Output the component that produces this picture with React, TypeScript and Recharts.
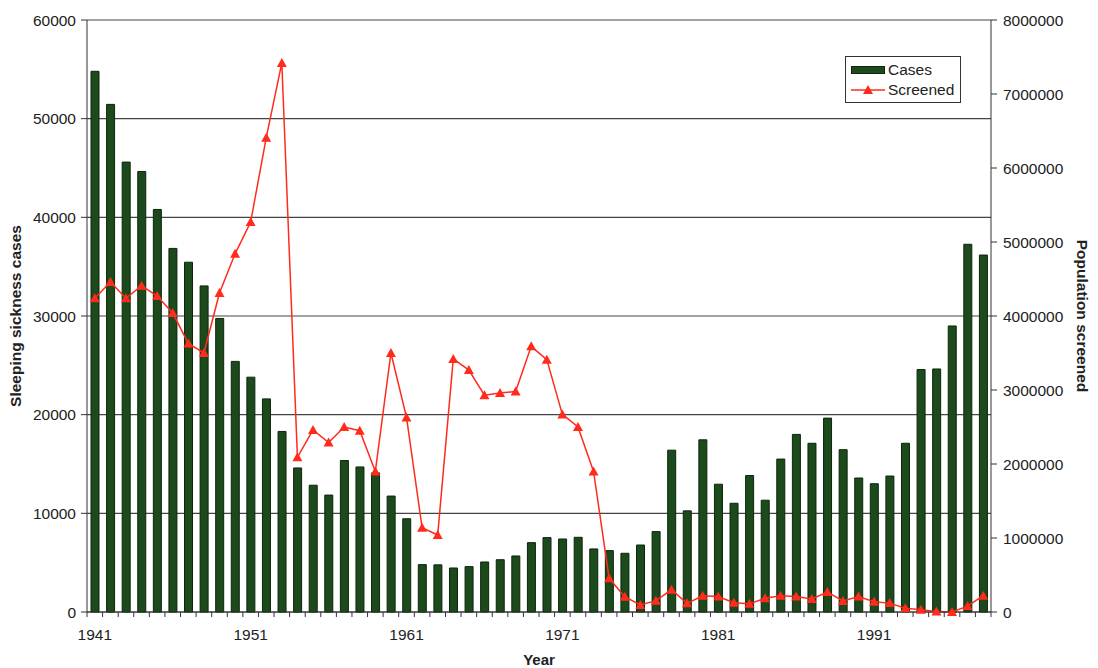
import { ComposedChart, Bar, Line, XAxis, YAxis, CartesianGrid } from 'recharts';

const years = [
  1941, 1942, 1943, 1944, 1945, 1946, 1947, 1948, 1949, 1950,
  1951, 1952, 1953, 1954, 1955, 1956, 1957, 1958, 1959, 1960,
  1961, 1962, 1963, 1964, 1965, 1966, 1967, 1968, 1969, 1970,
  1971, 1972, 1973, 1974, 1975, 1976, 1977, 1978, 1979, 1980,
  1981, 1982, 1983, 1984, 1985, 1986, 1987, 1988, 1989, 1990,
  1991, 1992, 1993, 1994, 1995, 1996, 1997, 1998,
];

const cases = [
  54800, 51450, 45600, 44650, 40800, 36850, 35450, 33050, 29750, 25400,
  23800, 21600, 18300, 14600, 12850, 11850, 15350, 14700, 14100, 11750,
  9450, 4800, 4780, 4460, 4600, 5070, 5300, 5680, 7030, 7540,
  7400, 7570, 6390, 6220, 5950, 6790, 8150, 16400, 10250, 17450,
  12950, 11020, 13830, 11330, 15500, 18000, 17100, 19650, 16450, 13580,
  13000, 13780, 17100, 24570, 24630, 28990, 37270, 36180,
];

const screened = [
  4240000, 4460000, 4240000, 4410000, 4270000, 4040000, 3630000, 3500000, 4310000, 4840000,
  5270000, 6410000, 7420000, 2090000, 2460000, 2290000, 2500000, 2450000, 1900000, 3500000,
  2630000, 1140000, 1040000, 3420000, 3270000, 2930000, 2960000, 2980000, 3590000, 3410000,
  2670000, 2500000, 1900000, 455000, 207000, 95000, 153000, 300000, 117000, 220000,
  210000, 126000, 110000, 185000, 220000, 210000, 176000, 270000, 150000, 210000,
  140000, 120000, 50000, 30000, 8000, 0, 80000, 220000,
];

const leftTicks = [0, 10000, 20000, 30000, 40000, 50000, 60000];
const rightTicks = [0, 1000000, 2000000, 3000000, 4000000, 5000000, 6000000, 7000000, 8000000];

const data = years.map((year, i) => ({ year, cases: cases[i], screened: screened[i] }));

const FONT = '"Liberation Sans", Arial, sans-serif';
const BAR_GREEN = '#1c4a1c';
const RED = '#ff2b1c';

const BAND = 904 / years.length;

const YearTick = (props: any) => {
  const { x, y, index } = props;
  const last = index === years.length - 1;
  return (
    <g>
      <line x1={x - BAND / 2} x2={x - BAND / 2} y1={y} y2={y + 5} stroke="#333" />
      {last && <line x1={x + BAND / 2} x2={x + BAND / 2} y1={y} y2={y + 5} stroke="#333" />}
      {index % 10 === 0 && (
        <text x={x} y={y + 28} textAnchor="middle" fontSize={15.5} fill="#222" fontFamily={FONT}>
          {props.payload.value}
        </text>
      )}
    </g>
  );
};

const Triangle = (props: any) => {
  const { cx, cy } = props;
  if (cx == null || cy == null) return null;
  return <polygon points={`${cx},${cy - 5} ${cx - 5},${cy + 4} ${cx + 5},${cy + 4}`} fill={RED} />;
};

const LegendBox = () => (
  <div
    style={{
      position: 'absolute',
      left: 845,
      top: 56,
      border: '1px solid #333',
      background: '#fff',
      width: 116,
      height: 47,
      fontFamily: FONT,
      fontSize: 15.5,
      color: '#222',
      boxSizing: 'border-box',
      padding: '3px 5px',
    }}
  >
    <div style={{ display: 'flex', alignItems: 'center', height: 20 }}>
      <div style={{ width: 34, height: 8, background: BAR_GREEN, border: '1px solid #0b260b', boxSizing: 'border-box' }} />
      <span style={{ marginLeft: 3 }}>Cases</span>
    </div>
    <div style={{ display: 'flex', alignItems: 'center', height: 20 }}>
      <svg width={34} height={12}>
        <line x1={0} x2={34} y1={6} y2={6} stroke={RED} strokeWidth={1.5} />
        <polygon points="17,1 12,10 22,10" fill={RED} />
      </svg>
      <span style={{ marginLeft: 3 }}>Screened</span>
    </div>
  </div>
);

export default function App() {
  return (
    <div style={{ position: 'absolute', left: 0, top: 0, width: 1098, height: 668, background: '#fff' }}>
      <ComposedChart
        width={1098}
        height={668}
        data={data}
        margin={{ top: 20, right: 0, bottom: 0, left: 0 }}
        barSize={8}
      >
        <CartesianGrid yAxisId="left" vertical={false} stroke="#444" strokeWidth={1.2} />
        <XAxis
          dataKey="year"
          height={56}
          interval={0}
          tick={<YearTick />}
          tickLine={false}
          tickSize={0}
          tickMargin={0}
          axisLine={{ stroke: '#333' }}
          label={{ value: 'Year', position: 'insideBottom', offset: 3, fontSize: 15, fontWeight: 'bold', fill: '#222', fontFamily: FONT }}
        />
        <YAxis
          yAxisId="left"
          width={87}
          domain={[0, 60000]}
          ticks={leftTicks}
          interval={0}
          tickSize={6}
          tickMargin={5}
          tick={{ fontSize: 15.5, fill: '#222', fontFamily: FONT }}
          tickLine={{ stroke: '#333' }}
          axisLine={{ stroke: '#333' }}
          label={{
            value: 'Sleeping sickness cases',
            angle: -90,
            position: 'insideLeft',
            offset: 15,
            fontSize: 15.5,
            fontWeight: 'bold',
            fill: '#222',
            fontFamily: FONT,
            style: { textAnchor: 'middle' },
          }}
        />
        <YAxis
          yAxisId="right"
          orientation="right"
          width={107}
          domain={[0, 8000000]}
          ticks={rightTicks}
          interval={0}
          tickSize={6}
          tickMargin={6}
          tick={{ fontSize: 15.5, fill: '#222', fontFamily: FONT }}
          tickLine={{ stroke: '#333' }}
          axisLine={{ stroke: '#333' }}
          label={{
            value: 'Population screened',
            angle: 90,
            position: 'insideRight',
            offset: 16,
            fontSize: 15.5,
            fontWeight: 'bold',
            fill: '#222',
            fontFamily: FONT,
            style: { textAnchor: 'middle' },
          }}
        />
        <Bar
          yAxisId="left"
          dataKey="cases"
          name="Cases"
          fill={BAR_GREEN}
          stroke="#0b260b"
          strokeWidth={1}
          isAnimationActive={false}
        />
        <Line
          yAxisId="right"
          dataKey="screened"
          name="Screened"
          type="linear"
          stroke={RED}
          strokeWidth={1.5}
          dot={<Triangle />}
          activeDot={false}
          isAnimationActive={false}
        />
      </ComposedChart>
      <LegendBox />
    </div>
  );
}
